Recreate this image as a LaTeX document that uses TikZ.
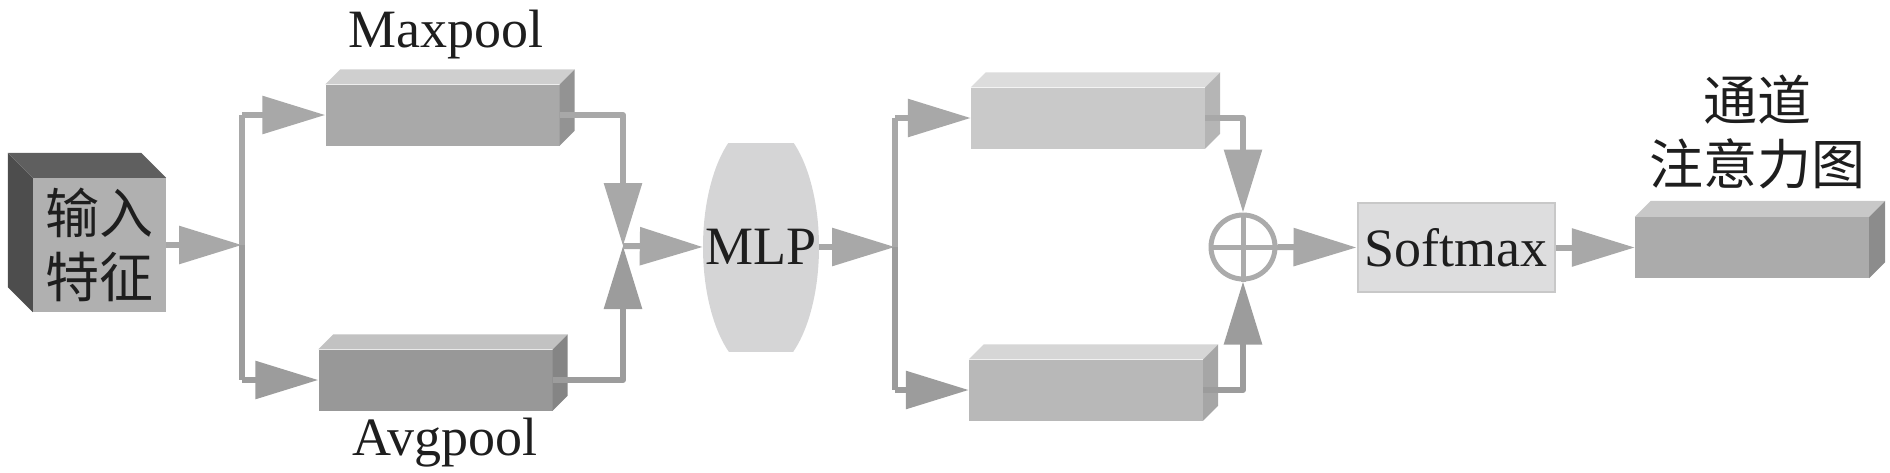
\documentclass[tikz,border=0pt]{standalone}
\usepackage{fontspec}
\setmainfont{Liberation Serif}
\newfontfamily\cjk{Noto Sans CJK SC}
\usetikzlibrary{arrows.meta}

\definecolor{lineA}{HTML}{A8A8A8}
\definecolor{lineB}{HTML}{9C9C9C}
\definecolor{txt}{HTML}{1E1E1E}
\definecolor{cubeF}{HTML}{B0B0B0}
\definecolor{cubeL}{HTML}{4D4D4D}
\definecolor{cubeT}{HTML}{5F5F5F}
\definecolor{maxF}{HTML}{A9A9A9}
\definecolor{maxT}{HTML}{CFCFCF}
\definecolor{maxS}{HTML}{939393}
\definecolor{avgF}{HTML}{989898}
\definecolor{avgT}{HTML}{C2C2C2}
\definecolor{avgS}{HTML}{858585}
\definecolor{fcaF}{HTML}{C9C9C9}
\definecolor{fcaT}{HTML}{DCDCDC}
\definecolor{fcaS}{HTML}{B5B5B5}
\definecolor{fcbF}{HTML}{B8B8B8}
\definecolor{fcbT}{HTML}{D6D6D6}
\definecolor{fcbS}{HTML}{A6A6A6}
\definecolor{outF}{HTML}{ABABAB}
\definecolor{outT}{HTML}{C8C8C8}
\definecolor{outS}{HTML}{8C8C8C}
\definecolor{mlpF}{HTML}{D5D5D6}
\definecolor{softF}{HTML}{DDDDDE}
\definecolor{softD}{HTML}{C8C8C8}
\definecolor{addD}{HTML}{ABABAB}

% side faces of a box: node, depth, top colour, side colour
\newcommand{\prismfaces}[4]{%
  \fill[color=#3] (#1.north west) -- ++(#2,-#2) -- ([shift={(#2,-#2)}]#1.north east) -- (#1.north east) -- cycle;
  \fill[color=#4] (#1.north east) -- ++(#2,-#2) -- ([shift={(#2,-#2)}]#1.south east) -- (#1.south east) -- cycle;}

\tikzset{
  conn/.style={draw=lineA, line width=6pt, line join=round},
  arr/.style={conn, -{Triangle[length=63pt,width=37pt]}},
  front/.style={rectangle, inner sep=0pt, minimum width=234pt, minimum height=61pt},
  big/.style={font=\fontsize{54}{64}\selectfont, text=txt, inner sep=0pt},
}

\begin{document}
\begin{tikzpicture}[x=1pt,y=1pt,yscale=-1,xscale=1]
	\useasboundingbox (0,0) rectangle (1890,472);
	% input cube
	\node [big, fill=cubeF, minimum width=133pt, minimum height=134pt, align=center] (in) at (99.5,245) {\cjk 输入\\\cjk 特征};
	\fill [color=cubeL] (in.north west) -- ++(-25,-25) -- ([shift={(-25,-25)}]in.south west) -- (in.south west) -- cycle;
	\fill [color=cubeT] (in.north west) -- ++(-25,-25) -- ([shift={(-25,-25)}]in.north east) -- (in.north east) -- cycle;
	% pooling boxes
	\node [front, fill=maxF] (maxp) at (442.5,115) {};
	\prismfaces{maxp}{15}{maxT}{maxS}
	\node [front, fill=avgF] (avgp) at (435.5,380) {};
	\prismfaces{avgp}{15}{avgT}{avgS}
	\node [big, anchor=base] (maxlbl) at (446,47) {Maxpool};
	\node [big, anchor=base] (avglbl) at (445,455) {Avgpool};
	% MLP
	\begin{scope}
		\clip (700,143) rectangle (822,351);
		\fill [color=mlpF] (761,247) ellipse [x radius=58, y radius=126];
	\end{scope}
	\node [big, minimum width=116pt, minimum height=208pt] (mlp) at (761,247) {MLP};
	% shared layer outputs
	\node [front, fill=fcaF] (fc1) at (1088,118) {};
	\prismfaces{fc1}{15}{fcaT}{fcaS}
	\node [front, fill=fcbF] (fc2) at (1086,390) {};
	\prismfaces{fc2}{15}{fcbT}{fcbS}
	% sum, softmax, output
	\node [circle, draw=addD, line width=5pt, minimum size=64pt, inner sep=0pt] (add) at (1243,247) {};
	\draw [color=addD, line width=5pt] (add.north) -- (add.south) (add.west) -- (add.east);
	\node [big, fill=softF, draw=softD, line width=2pt, minimum width=197pt, minimum height=89pt] (soft) at (1456,247.5) {Softmax};
	\node [front, fill=outF] (outb) at (1752,247.5) {};
	\prismfaces{outb}{16}{outT}{outS}
	\node [big, align=center] (outlbl) at (1757,132) {\cjk 通道\\\cjk 注意力图};
	% connectors
	\coordinate (b1) at (242,245);
	\coordinate (b1t) at (242,115);
	\coordinate (b1b) at (242,380);
	\coordinate (m) at (623,246);
	\coordinate (b2) at (895,247);
	\coordinate (b2t) at (895,118);
	\coordinate (b2b) at (895,390);
	\draw [arr] (in.east |- b1) -- (b1);
	\draw [conn] (b1t) -- (b1);
	\draw [conn, draw=lineB] (b1) -- (b1b);
	\draw [arr] (b1t) -- (maxp.west);
	\draw [arr, draw=lineB] (b1b) -- (avgp.west);
	\draw [arr] (maxp.east) -| (m);
	\draw [arr, draw=lineB] (avgp.east) -| (m);
	\draw [arr] (m) -- (mlp.west);
	\draw [arr] (mlp.east) -- (b2);
	\draw [conn] (b2t) -- (b2);
	\draw [conn, draw=lineB] (b2) -- (b2b);
	\draw [arr] (b2t) -- (fc1.west);
	\draw [arr, draw=lineB] (b2b) -- (fc2.west);
	\draw [arr] (fc1.east) -| (add.north);
	\draw [arr, draw=lineB] (fc2.east) -| (add.south);
	\draw [arr] (add.east) -- (soft.west);
	\draw [arr] (soft.east) -- (outb.west);
\end{tikzpicture}
\end{document}
